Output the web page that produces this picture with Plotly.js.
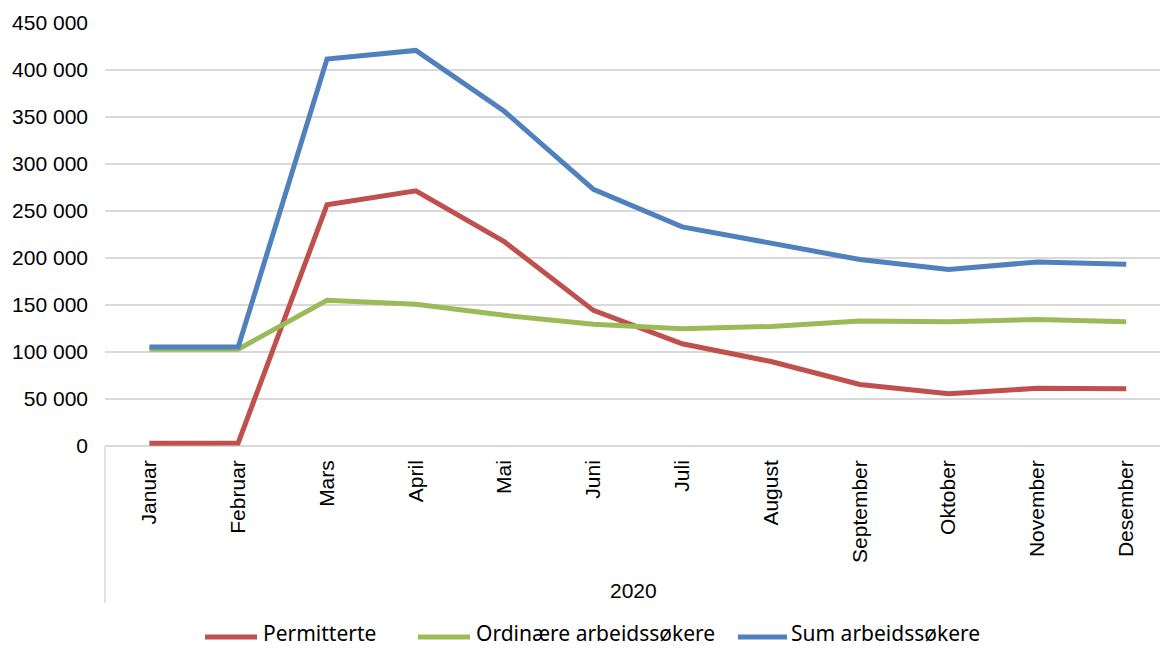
<!DOCTYPE html>
<html>
<head>
<meta charset="utf-8">
<script src="https://cdn.plot.ly/plotly-3.0.1.min.js"></script>
<style>html,body{margin:0;padding:0;background:#fff;}#chart{width:1160px;height:648px;}</style>
</head>
<body>
<div id="chart"></div>
<script>
const months = ["Januar","Februar","Mars","April","Mai","Juni","Juli","August","September","Oktober","November","Desember"];
const permitterte = [2800, 3200, 256600, 271500, 217100, 144300, 108800, 89900, 65400, 55500, 61400, 60800];
const ordinaere = [103000, 103000, 155000, 150700, 139000, 129400, 124800, 127200, 132900, 132200, 134700, 132200];
const sum = [105200, 105200, 411600, 420800, 355800, 273000, 233100, 215400, 198400, 187700, 195800, 193300];
const seriesNames = ["Permitterte", "Ordinære arbeidssøkere", "Sum arbeidssøkere"];
const seriesColors = ["#C0504D", "#9BBB59", "#4F81BD"];
const yearLabel = "2020";
const yTicks = [0, 50000, 100000, 150000, 200000, 250000, 300000, 350000, 400000, 450000];
const yTickText = ["0","50 000","100 000","150 000","200 000","250 000","300 000","350 000","400 000","450 000"];

const seriesValues = [permitterte, ordinaere, sum];
const data = seriesValues.map((y, i) => ({
  type: 'scatter', mode: 'lines', name: seriesNames[i], x: months, y: y,
  line: {color: seriesColors[i], width: 5}, hoverinfo: 'skip', showlegend: false
}));

// plot area geometry (px) used to place legend in paper coordinates
const L = 105, W = 1055, T = 23, H = 423;
const px2x = p => (p - L) / W;
const px2y = p => (T + H - p) / H;

// legend layout (line start/end, text start in px)
const legendPos = [[205, 257, 262], [418, 470, 475], [738, 787, 790]];
const legendLineY = px2y(637);
const legendTextBottom = px2y(648);

const shapes = [{
  type: 'line', xref: 'paper', yref: 'paper', x0: 0, x1: 0, y0: 0, y1: px2y(603),
  line: {color: '#d9d9d9', width: 1.5}
}];
const annotations = [{
  text: yearLabel, xref: 'paper', yref: 'paper', x: px2x(633), y: px2y(590),
  xanchor: 'center', yanchor: 'middle', showarrow: false,
  font: {size: 21, color: '#000'}
}];
seriesNames.forEach((n, i) => {
  const p = legendPos[i];
  shapes.push({
    type: 'line', xref: 'paper', yref: 'paper', x0: px2x(p[0]), x1: px2x(p[1]), y0: legendLineY, y1: legendLineY,
    line: {color: seriesColors[i], width: 5}
  });
  annotations.push({
    text: n, xref: 'paper', yref: 'paper', x: px2x(p[2]), y: legendTextBottom,
    xanchor: 'left', yanchor: 'bottom', showarrow: false, borderpad: 0,
    font: {family: '"Noto Sans", sans-serif', size: 21, color: '#000'}
  });
});

const layout = {
  width: 1160, height: 648,
  margin: {l: L, r: 1160 - L - W, t: T, b: 648 - T - H, autoexpand: false},
  paper_bgcolor: '#fff', plot_bgcolor: '#fff',
  font: {family: 'Arial, "Liberation Sans", sans-serif', size: 21, color: '#000'},
  xaxis: {
    type: 'category', range: [-0.5, 11.38], automargin: false,
    tickangle: -90, showgrid: false, showline: false, zeroline: false,
    ticks: '', ticklabelstandoff: 9,
    tickfont: {size: 21, color: '#000'}
  },
  yaxis: {
    range: [0, 450000], tickvals: yTicks, ticktext: yTickText, automargin: false,
    showgrid: true, gridcolor: '#d9d9d9', gridwidth: 1.5,
    zeroline: true, zerolinecolor: '#d9d9d9', zerolinewidth: 1.5,
    showline: false, ticks: '', ticklabelstandoff: 16,
    tickfont: {size: 21, color: '#000'}
  },
  showlegend: false,
  annotations: annotations,
  shapes: shapes
};

Plotly.newPlot('chart', data, layout, {displayModeBar: false, staticPlot: true});
</script>
</body>
</html>
